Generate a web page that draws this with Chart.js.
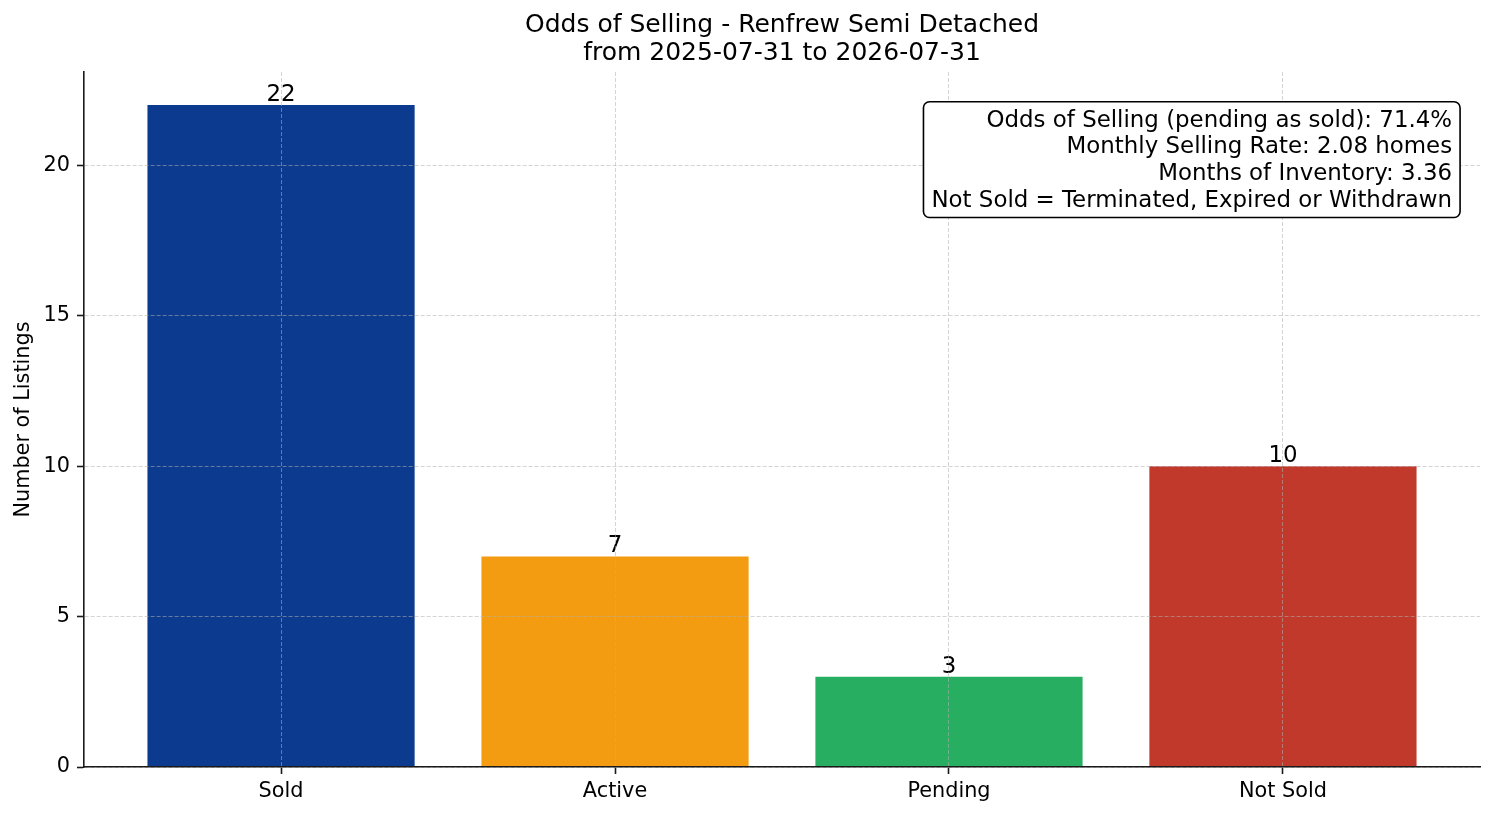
<!DOCTYPE html>
<html>
<head>
<meta charset="utf-8">
<script src="https://cdn.jsdelivr.net/npm/chart.js@4.4.1/dist/chart.umd.min.js"></script>
<style>
  html, body { margin: 0; padding: 0; background: #fff; }
  #wrap { width: 1494px; height: 816px; position: relative; }
</style>
</head>
<body>
<div id="wrap"><canvas id="chart"></canvas></div>
<script>
// data
const categories = ["Sold", "Active", "Pending", "Not Sold"];
const counts = [22, 7, 3, 10];
const barColors = ["#0b3a8e", "#f39c12", "#27ae60", "#c0392b"];
const yTicks = [0, 5, 10, 15, 20];
const titleLines = ["Odds of Selling - Renfrew Semi Detached", "from 2025-07-31 to 2026-07-31"];
const infoLines = [
  "Odds of Selling (pending as sold): 71.4%",
  "Monthly Selling Rate: 2.08 homes",
  "Months of Inventory: 3.36",
  "Not Sold = Terminated, Expired or Withdrawn",
];

const FONT = "'DejaVu Sans', sans-serif";
const gridColor = "rgba(176, 176, 176, 0.55)";
const spineColor = "#1a1a1a";

// value labels above each bar
const barLabels = {
  id: "barLabels",
  afterDatasetsDraw(chart) {
    const ctx = chart.ctx;
    const meta = chart.getDatasetMeta(0);
    ctx.save();
    ctx.font = "22.9px " + FONT;
    ctx.fillStyle = "#000";
    ctx.textAlign = "center";
    ctx.textBaseline = "alphabetic";
    meta.data.forEach((bar, i) => {
      ctx.fillText(String(counts[i]), bar.x, bar.y - 4);
    });
    ctx.restore();
  },
};

// info box in the upper right corner
const infoBox = {
  id: "infoBox",
  afterDraw(chart) {
    const ctx = chart.ctx;
    const area = chart.chartArea;
    const w = area.right - area.left;
    const h = area.bottom - area.top;
    const xRight = area.right - 0.02 * w;
    const yTop = area.bottom - 0.95 * h;
    const lineH = 26.7;
    const pad = 8;
    ctx.save();
    ctx.font = "22.9px " + FONT;
    let maxW = 0;
    infoLines.forEach((t) => { maxW = Math.max(maxW, ctx.measureText(t).width); });
    const bx = xRight - maxW - pad;
    const by = yTop - 5;
    const bw = maxW + pad * 2;
    const bh = lineH * infoLines.length + 9;
    ctx.beginPath();
    ctx.roundRect(bx, by, bw, bh, 6);
    ctx.fillStyle = "#fff";
    ctx.fill();
    ctx.lineWidth = 1.6;
    ctx.strokeStyle = "#000";
    ctx.stroke();
    ctx.fillStyle = "#000";
    ctx.textAlign = "right";
    ctx.textBaseline = "middle";
    infoLines.forEach((t, i) => {
      ctx.fillText(t, xRight, yTop + 14 + i * lineH);
    });
    ctx.restore();
  },
};

Chart.defaults.font.family = FONT;
Chart.defaults.color = "#000";

new Chart(document.getElementById("chart"), {
  type: "bar",
  data: {
    datasets: [{
      data: counts.map((v, i) => ({ x: i, y: v })),
      backgroundColor: barColors,
      borderWidth: 0,
      barPercentage: 0.8,
      categoryPercentage: 1.0,
    }],
  },
  options: {
    responsive: true,
    maintainAspectRatio: false,
    animation: false,
    layout: { padding: { left: 0, right: 14, top: 1, bottom: 0 } },
    plugins: {
      legend: { display: false },
      tooltip: { enabled: false },
      title: {
        display: true,
        text: titleLines,
        fullSize: false,
        color: "#000",
        font: { size: 25, weight: "normal", lineHeight: 1.12 },
        padding: { top: 10, bottom: 5 },
      },
    },
    scales: {
      x: {
        type: "linear",
        min: -0.59,
        max: 3.59,
        offset: false,
        afterBuildTicks: (axis) => {
          axis.ticks = categories.map((_, i) => ({ value: i }));
        },
        afterFit: (axis) => { axis.height = 49; },
        grid: {
          z: 1,
          offset: false,
          color: gridColor,
          lineWidth: 1,
          tickColor: spineColor,
          tickWidth: 1.6,
          tickLength: 7,
          tickBorderDash: [],
        },
        border: { display: true, color: spineColor, width: 1.6, dash: [4, 2], z: 2 },
        ticks: {
          color: "#000",
          font: { size: 20.8 },
          padding: 5,
          maxRotation: 0,
          autoSkip: false,
          callback: (v) => categories[v],
        },
      },
      y: {
        min: 0,
        max: 23.1,
        afterBuildTicks: (axis) => {
          axis.ticks = yTicks.map((v) => ({ value: v }));
        },
        afterFit: (axis) => { axis.width = 84; },
        grid: {
          z: 1,
          color: gridColor,
          lineWidth: 1,
          tickColor: spineColor,
          tickWidth: 1.6,
          tickLength: 7,
          tickBorderDash: [],
        },
        border: { display: true, color: spineColor, width: 1.6, dash: [4, 2], z: 2 },
        ticks: {
          color: "#000",
          font: { size: 20.8 },
          padding: 7,
        },
        title: {
          display: true,
          text: "Number of Listings",
          color: "#000",
          font: { size: 20.8 },
          padding: { top: 11, bottom: 0 },
        },
      },
    },
  },
  plugins: [barLabels, infoBox],
});
</script>
</body>
</html>
